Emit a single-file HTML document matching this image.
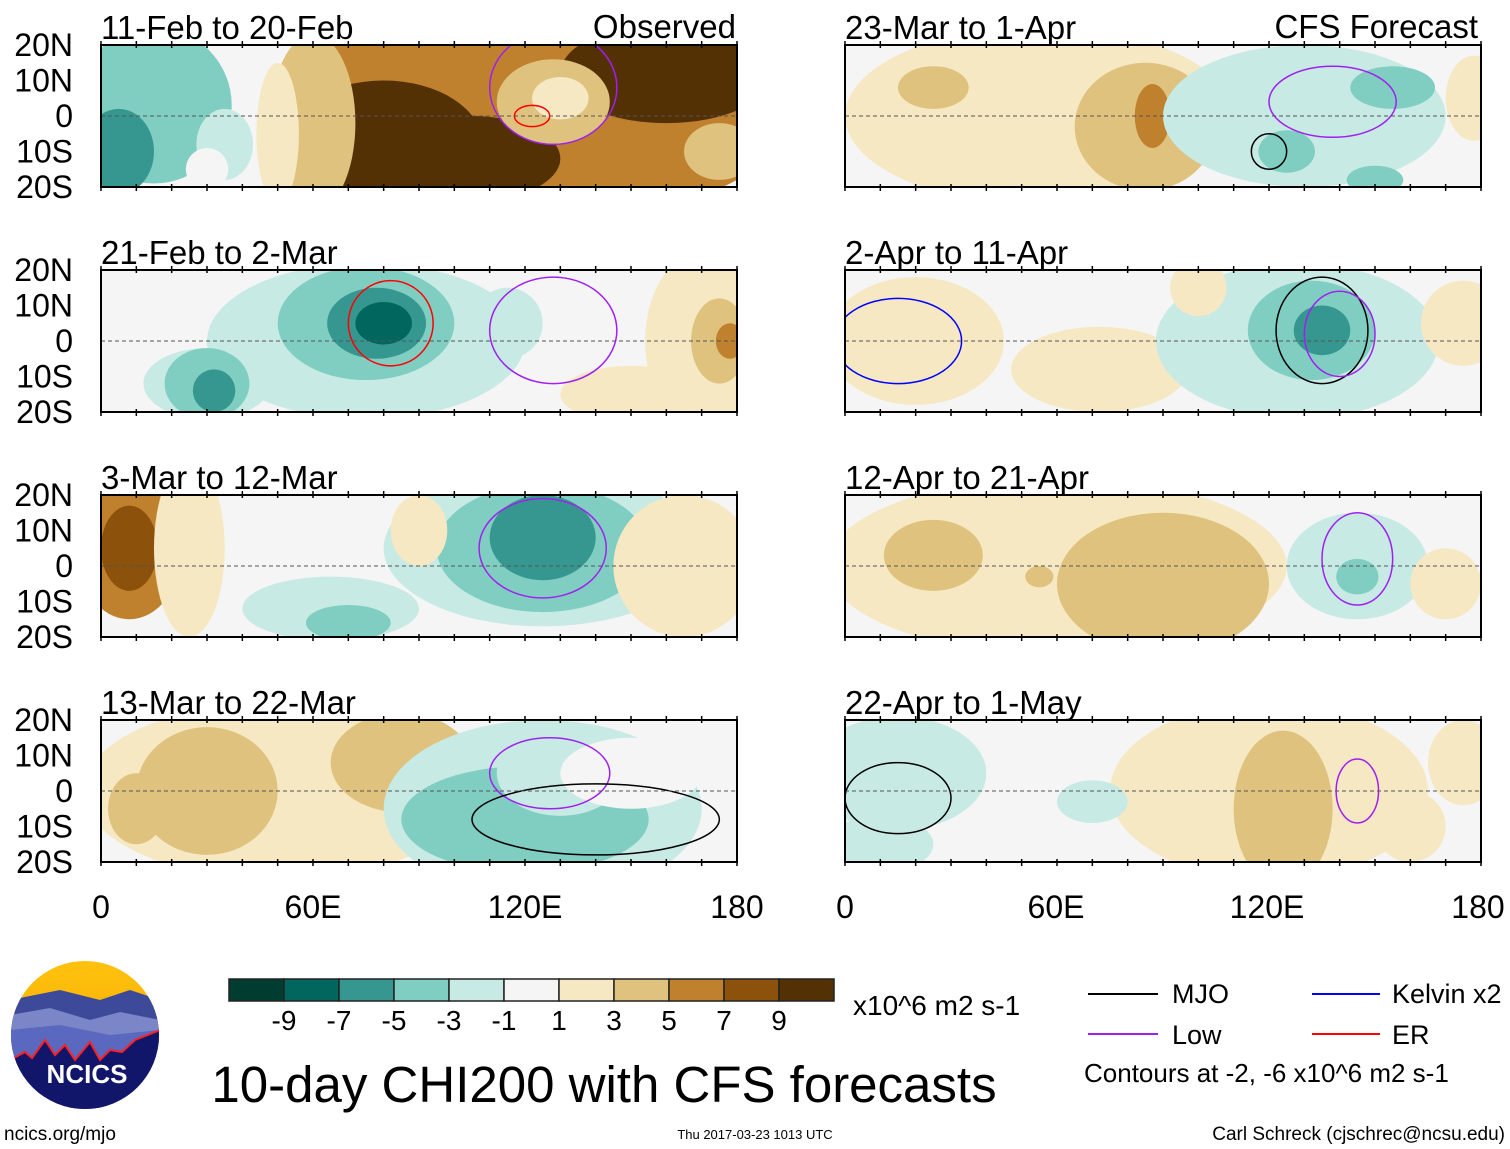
<!DOCTYPE html>
<html><head><meta charset="utf-8">
<style>
html,body{margin:0;padding:0;background:#fff;}
svg{display:block;font-family:"Liberation Sans",Arial,sans-serif;}
</style></head>
<body>
<svg id="chart" width="1510" height="1149" viewBox="0 0 1510 1149">
<defs>
<linearGradient id="sky" x1="0" y1="0" x2="0" y2="1"><stop offset="0" stop-color="#ffc20e"/><stop offset="1" stop-color="#f0a000"/></linearGradient>
<clipPath id="logoclip"><circle cx="85" cy="1035" r="74"/></clipPath>
</defs>
<g id="panels"></g>
<g font-size="32" text-anchor="middle">
<text x="101" y="918">0</text><text x="313" y="918">60E</text><text x="525" y="918">120E</text><text x="737" y="918">180</text>
</g>
<g font-size="32" text-anchor="middle">
<text x="845" y="918">0</text><text x="1056" y="918">60E</text><text x="1267" y="918">120E</text><text x="1478" y="918">180</text>
</g>
<text x="736" y="38" font-size="33" text-anchor="end">Observed</text>
<text x="1478" y="38" font-size="33" text-anchor="end">CFS Forecast</text>
<g id="colorbar"></g>
<text x="853" y="1015" font-size="28">x10^6 m2 s-1</text>
<text x="604" y="1102" font-size="51" text-anchor="middle">10-day CHI200 with CFS forecasts</text>
<g font-size="27">
<line x1="1088" y1="994" x2="1158" y2="994" stroke="#000" stroke-width="2"/><text x="1172" y="1003">MJO</text>
<line x1="1088" y1="1034" x2="1158" y2="1034" stroke="#a020f0" stroke-width="2"/><text x="1172" y="1044">Low</text>
<line x1="1312" y1="994" x2="1380" y2="994" stroke="#0000ff" stroke-width="2"/><text x="1392" y="1003">Kelvin x2</text>
<line x1="1312" y1="1034" x2="1380" y2="1034" stroke="#ff0000" stroke-width="2"/><text x="1392" y="1044">ER</text>
<text x="1084" y="1082" font-size="26">Contours at -2, -6 x10^6 m2 s-1</text>
</g>
<g clip-path="url(#logoclip)">
<rect x="10" y="960" width="150" height="150" fill="url(#sky)"/>
<path d="M10 1000 L60 990 L100 1000 L130 990 L160 1000 L160 1110 L10 1110Z" fill="#3d4a9a"/>
<path d="M10 1015 L50 1008 L90 1020 L120 1012 L160 1020 L160 1110 L10 1110Z" fill="#7a86c8"/>
<path d="M10 1030 L60 1025 L110 1035 L160 1030 L160 1110 L10 1110Z" fill="#5a68c0"/>
<path d="M10 1060 L25 1052 L32 1058 L45 1040 L55 1055 L65 1045 L75 1060 L90 1042 L100 1060 L110 1050 L122 1052 L135 1040 L160 1030 L160 1110 L10 1110Z" fill="#12166a" stroke="#ff2020" stroke-width="2"/>
</g>
<text x="87" y="1083" font-size="26" font-weight="bold" fill="#fff" text-anchor="middle">NCICS</text>
<text x="4" y="1140" font-size="19">ncics.org/mjo</text>
<text x="755" y="1139" font-size="13" text-anchor="middle">Thu 2017-03-23 1013 UTC</text>
<text x="1505" y="1140" font-size="19" text-anchor="end">Carl Schreck (cjschrec@ncsu.edu)</text>
</svg>
<script>
const levelColors = ["#003c30","#01665e","#35978f","#80cdc1","#c7eae5","#f5f5f5","#f6e8c3","#dfc27d","#bf812d","#8c510a","#543005"];
const colorbarLabels = ["-9","-7","-5","-3","-1","1","3","5","7","9"];
const panelTitles = ["11-Feb to 20-Feb","21-Feb to 2-Mar","3-Mar to 12-Mar","13-Mar to 22-Mar","23-Mar to 1-Apr","2-Apr to 11-Apr","12-Apr to 21-Apr","22-Apr to 1-May"];
// blobs: [lon, lat, rxDeg, ryDeg, levelIndex]
const blobs0 = [[120,0,75,30,8],[80,-8,28,18,10],[105,-12,25,12,10],[160,12,30,14,10],[128,4,16,12,7],[130,5,8,6,6],[60,-2,12,25,7],[50,-5,6,20,6],[15,3,22,22,3],[5,-10,10,12,2],[35,-8,8,10,4],[30,-15,6,6,5],[175,-10,10,8,7]];
const blobs1 = [[55,0,50,25,5],[75,0,45,22,4],[30,-12,18,10,4],[75,5,25,16,3],[78,5,14,10,2],[80,5,8,6,1],[30,-12,12,10,3],[32,-14,6,6,2],[115,5,10,10,4],[170,0,16,25,6],[175,0,8,12,7],[178,0,4,5,8],[150,-15,20,8,6]];
const blobs2 = [[8,5,15,20,8],[8,5,8,12,9],[25,5,10,25,6],[125,5,45,22,4],[125,5,30,18,3],[125,8,15,12,2],[65,-12,25,9,4],[70,-16,12,5,3],[165,0,20,20,6],[90,10,8,10,6]];
const blobs3 = [[50,0,55,25,6],[30,0,20,18,7],[10,-5,8,10,7],[85,8,20,14,7],[125,-5,45,25,4],[120,-8,35,15,3],[130,5,18,12,4],[150,5,20,10,5]];
const blobs4 = [[55,0,55,25,6],[85,-3,20,18,7],[87,0,5,9,8],[25,8,10,6,7],[130,0,40,20,4],[155,8,12,6,3],[125,-10,8,6,3],[150,-18,8,4,3],[178,5,8,12,6]];
const blobs5 = [[20,0,25,18,6],[25,3,12,10,6],[72,-8,25,12,6],[80,-10,10,6,6],[128,0,40,22,4],[132,3,18,14,3],[135,3,8,7,2],[175,5,12,12,6],[100,15,8,8,6]];
const blobs6 = [[60,0,65,25,6],[25,3,14,10,7],[90,-5,30,20,7],[55,-3,4,3,7],[145,0,20,15,4],[145,-3,6,5,3],[170,-5,10,10,6]];
const blobs7 = [[15,5,25,16,4],[10,-15,15,8,4],[120,0,45,25,6],[124,-5,14,22,7],[70,-3,10,6,4],[175,8,10,12,6],[160,-10,10,10,6]];
const panelBlobs = [blobs0,blobs1,blobs2,blobs3,blobs4,blobs5,blobs6,blobs7];
// contour loops: [lon, lat, rxDeg, ryDeg, colour]
const contours0 = [[128,8,18,16,"#a020f0"],[122,0,5,3,"#ff0000"]];
const contours1 = [[82,5,12,12,"#ff0000"],[128,3,18,15,"#a020f0"]];
const contours2 = [[125,5,18,14,"#a020f0"]];
const contours3 = [[127,5,17,10,"#a020f0"],[140,-8,35,10,"#000"]];
const contours4 = [[138,4,18,10,"#a020f0"],[120,-10,5,5,"#000"]];
const contours5 = [[15,0,18,12,"#0000ff"],[135,3,13,15,"#000"],[140,2,10,12,"#a020f0"]];
const contours6 = [[145,2,10,13,"#a020f0"]];
const contours7 = [[145,0,6,9,"#a020f0"],[15,-2,15,10,"#000"]];
const panelContours = [contours0,contours1,contours2,contours3,contours4,contours5,contours6,contours7];

const NS = "http://www.w3.org/2000/svg";
const PW = 636, PH = 142;
const lefts = [101,101,101,101,845,845,845,845];
const tops = [45,270,495,720,45,270,495,720];
function mk(tag, attrs, parent){const e=document.createElementNS(NS,tag);for(const k in attrs)e.setAttribute(k,attrs[k]);parent.appendChild(e);return e;}
const panelsG = document.getElementById("panels");
for(let p=0;p<8;p++){
  const x0=lefts[p], y0=tops[p];
  const xs = lon => x0 + lon*PW/180;
  const ys = lat => y0 + PH/2 - lat*PH/40;
  const g = mk("g",{},panelsG);
  
  
  mk("clipPath",{id:"clip"+p},g);
  mk("rect",{x:x0,y:y0,width:PW,height:PH},g.lastChild);
  const inner = mk("g",{"clip-path":"url(#clip"+p+")"},g);
  mk("rect",{x:x0,y:y0,width:PW,height:PH,fill:levelColors[5]},inner);
  panelBlobs[p].forEach(b=>{
    const e = mk("ellipse",{cx:xs(b[0]),cy:ys(b[1]),rx:b[2]*PW/180,ry:b[3]*PH/40,fill:levelColors[b[4]]},inner);
    
    
  });
  panelContours[p].forEach(c=>{
    const e = mk("ellipse",{cx:xs(c[0]),cy:ys(c[1]),rx:c[2]*PW/180,ry:c[3]*PH/40,fill:"none",stroke:c[4],"stroke-width":1.5},inner);
    
    
  });
  mk("line",{x1:x0,y1:ys(0),x2:x0+PW,y2:ys(0),stroke:"#555","stroke-dasharray":"4,3","stroke-width":1},inner);
  mk("rect",{x:x0,y:y0,width:PW,height:PH,fill:"none",stroke:"#000","stroke-width":2},g);
  for(let lon=0;lon<=180;lon+=10){
    mk("line",{x1:xs(lon),y1:y0-4,x2:xs(lon),y2:y0+3,stroke:"#000","stroke-width":1.5},g);
    mk("line",{x1:xs(lon),y1:y0+PH-3,x2:xs(lon),y2:y0+PH+4,stroke:"#000","stroke-width":1.5},g);
  }
  const t = mk("text",{x:x0,y:y0-6,"font-size":33},g);
  t.textContent = panelTitles[p];
  
  
  if(p<4){
    const labs=["20N","10N","0","10S","20S"], lats=[20,10,0,-10,-20];
    labs.forEach((l,i)=>{
      const yt = mk("text",{x:73,y:ys(lats[i])+11,"font-size":32,"text-anchor":"end"},g);
      yt.textContent=l;
      
      
    });
  }
}
const cb = document.getElementById("colorbar");
const cbx=229, cbw=55, cby=979, cbh=22;
levelColors.forEach((c,i)=>{
  const r = mk("rect",{x:cbx+i*cbw,y:cby,width:cbw,height:cbh,fill:c,stroke:"#222","stroke-width":1.5},cb);
  
  
});
colorbarLabels.forEach((l,i)=>{
  const t = mk("text",{x:cbx+(i+1)*cbw,y:1030,"font-size":28,"text-anchor":"middle"},cb);
  t.textContent=l;
  
  
});
</script>
</body></html>
